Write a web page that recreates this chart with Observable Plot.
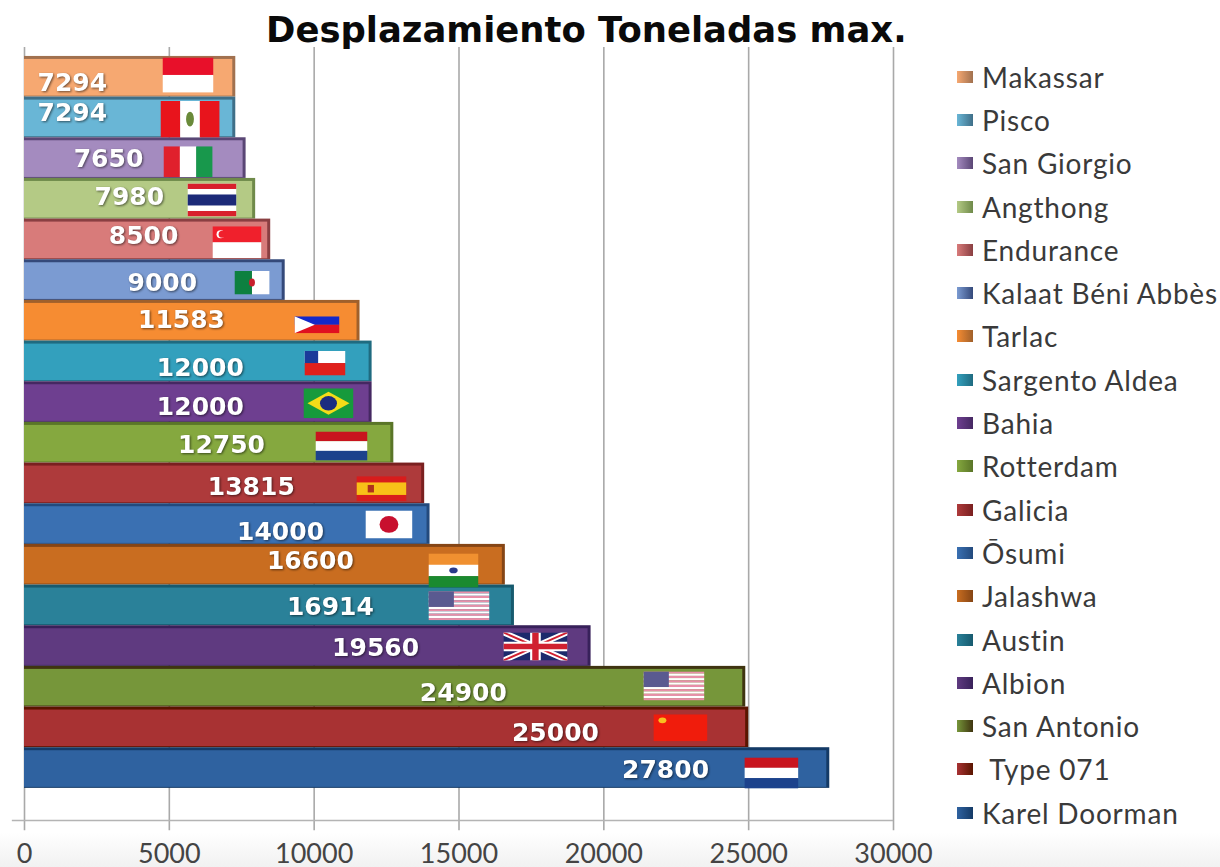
<!DOCTYPE html>
<html lang="es">
<head>
<meta charset="utf-8">
<script src="https://cdn.jsdelivr.net/npm/d3@7"></script>
<script src="https://cdn.jsdelivr.net/npm/@observablehq/plot@0.6"></script>
<style>
html,body{margin:0;padding:0;width:1220px;height:867px;overflow:hidden;
  background:linear-gradient(to bottom,#fff 0,#fff 96%,#f1f1f1 100%);}
#wrap{position:relative;width:1220px;height:867px;}
#title{position:absolute;left:266px;top:6px;height:41px;font:bold 35.4px/47px "DejaVu Sans",sans-serif;color:#0a0a0a;white-space:nowrap;}
#chart{position:absolute;left:0;top:47px;}
#chart svg{background:transparent;display:block;}
#chart g[aria-label="text"] text{filter:drop-shadow(1px 1px 1px rgba(0,0,0,.55));}
#chart g[aria-label="image"] image{filter:blur(.4px);}
#legend{position:absolute;left:957px;top:55px;font:28px "Lato",sans-serif;letter-spacing:.8px;color:#3a3a3a;}
.row{display:flex;align-items:center;height:43.3px;white-space:pre;}
.sw{width:16px;height:12px;margin-right:9px;flex:none;}
</style>
</head>
<body>
<div id="wrap">
  <div id="title">Desplazamiento Toneladas max.</div>
  <div id="chart"></div>
  <div id="legend"></div>
</div>
<script>
// Data, top of chart to bottom
const ships = ["Makassar","Pisco","San Giorgio","Angthong","Endurance","Kalaat Béni Abbès","Tarlac","Sargento Aldea","Bahia","Rotterdam","Galicia","Ōsumi","Jalashwa","Austin","Albion","San Antonio"," Type 071","Karel Doorman"];
const tonnes = [7294,7294,7650,7980,8500,9000,11583,12000,12000,12750,13815,14000,16600,16914,19560,24900,25000,27800];
const xTicks = [0,5000,10000,15000,20000,25000,30000];
const fills = ["#f6a871","#69b6d6","#a48bbf","#b4ca85","#d87b7a","#7b9bd2","#f68c32","#33a0bd","#6e3f90","#85a83f","#ae3a3b","#3a70b2","#c96d20","#2a8199","#5f3a80","#76963a","#a83233","#2f62a0"];
const edges = ["#a1714f","#3f6f88","#5a4675","#6f8a4a","#8a3f42","#34497a","#a0602b","#1f6b80","#452862","#5a7528","#7a2020","#234a7d","#854515","#175a6e","#38215a","#3f3410","#5a1500","#143a66"];
const flagNames = ["id","pe","it","th","sg","dz","ph","cl","br","nl","es","jp","in","us","gb","us","cn","nl"];
// Where each printed number and flag sit on the chart, in axis units
const labelCenters = [1650,1650,2900,3620,4110,4760,5420,6070,6070,6800,7830,8840,9870,10560,12120,15150,18330,22130];
const labelRows = [0.66,1.38,2.52,3.45,4.42,5.58,6.49,7.67,8.63,9.55,10.58,11.69,12.41,13.53,14.54,15.66,16.64,17.55];
const flagCenters = [5644,5713,5644,6472,7335,7853,10097,10373,10494,10943,12323,12582,14809,14999,17639,22420,22644,25785];
const flagRows = [0.455,1.54,2.59,3.53,4.57,5.56,6.6,7.54,8.53,9.58,10.63,11.51,12.64,13.51,14.51,15.48,16.51,17.62];
const flagWidths = [51,59,49,49,49,35,45,41,50,52,50,47,50,61,64,61,54,54];
const flagHeights = [35,37,31,33,32,24,17,25,30,29,25,28,34,29,28,29,27,31];

const svgFlag = (w,h,body)=>"data:image/svg+xml;utf8,"+encodeURIComponent(`<svg xmlns="http://www.w3.org/2000/svg" viewBox="0 0 ${w} ${h}" preserveAspectRatio="none">${body}</svg>`);
const hBands=(cols,w=1)=>cols.map((c,i)=>`<rect x="0" y="${i}" width="${w}" height="1.02" fill="${c}"/>`).join("");
const vBands=(cols)=>cols.map((c,i)=>`<rect x="${i}" y="0" width="1.02" height="1" fill="${c}"/>`).join("");
const usStripes=Array.from({length:13},(_,i)=>`<rect x="0" y="${i}" width="24" height="1" fill="${i%2?'#fff':'#e88ea8'}"/>`).join("");
const flagArt={
  id:svgFlag(1,2,hBands(["#e8102a","#fff"])),
  pe:svgFlag(3,1,vBands(["#e8141c","#fff","#e8141c"])+`<circle cx="1.5" cy=".5" r=".2" fill="#6a8a3a"/>`),
  it:svgFlag(3,1,vBands(["#e0202c","#fff","#18984c"])),
  th:svgFlag(6,6,`<rect width="6" height="6" fill="#fff"/><rect width="6" height="1" fill="#d8202c"/><rect y="5" width="6" height="1" fill="#d8202c"/><rect y="2" width="6" height="2" fill="#1c2a78"/>`),
  sg:svgFlag(12,8,`<rect width="12" height="4" fill="#f0202c"/><rect y="4" width="12" height="4" fill="#fff"/><circle cx="2" cy="2" r="1" fill="#fff"/><circle cx="2.4" cy="2" r=".9" fill="#f0202c"/>`),
  dz:svgFlag(2,1,vBands(["#0d8040","#fff"])+`<circle cx="1" cy=".5" r=".17" fill="#c8202c"/>`),
  ph:svgFlag(4,2,`<rect width="4" height="1" fill="#1428c8"/><rect y="1" width="4" height="1" fill="#e01020"/><path d="M0 0L1.8 1L0 2Z" fill="#fff"/>`),
  cl:svgFlag(3,2,`<rect width="3" height="1" fill="#fff"/><rect y="1" width="3" height="1" fill="#e0201c"/><rect width="1" height="1" fill="#1a3a9a"/>`),
  br:svgFlag(10,7,`<rect width="10" height="7" fill="#169a3c"/><path d="M5 .8L9.2 3.5L5 6.2L.8 3.5Z" fill="#f4dc18"/><circle cx="5" cy="3.5" r="1.7" fill="#1c2c80"/>`),
  nl:svgFlag(1,3,hBands(["#c8141e","#fff","#1c428c"])),
  es:svgFlag(4,4,`<rect width="4" height="4" fill="#d81c1c"/><rect y="1" width="4" height="2" fill="#f8c018"/><rect x=".9" y="1.4" width=".5" height="1.2" fill="#b0301c"/>`),
  jp:svgFlag(3,2,`<rect width="3" height="2" fill="#fff"/><circle cx="1.5" cy="1" r=".6" fill="#c8102e"/>`),
  in:svgFlag(3,3,hBands(["#f09030","#fff","#1a8a30"],3)+`<circle cx="1.5" cy="1.5" r=".25" fill="#2a3a8a"/>`),
  us:svgFlag(24,13,usStripes+`<rect width="10" height="7" fill="#5a5a90"/>`),
  gb:svgFlag(60,30,`<rect width="60" height="30" fill="#1c2a6c"/><path d="M0 0L60 30M60 0L0 30" stroke="#fff" stroke-width="6"/><path d="M0 0L60 30M60 0L0 30" stroke="#d02030" stroke-width="2"/><path d="M30 0V30M0 15H60" stroke="#fff" stroke-width="10"/><path d="M30 0V30M0 15H60" stroke="#d02030" stroke-width="6"/>`),
  cn:svgFlag(3,2,`<rect width="3" height="2" fill="#f01c0c"/><circle cx=".5" cy=".45" r=".22" fill="#f8c020"/>`)
};

const table = ships.map((ship,i)=>({ship,tonnes:tonnes[i],rank:i,next:i+1,fill:fills[i],edge:edges[i],
  labelX:labelCenters[i],labelY:labelRows[i],
  flagX:flagCenters[i],flagY:flagRows[i],flagW:flagWidths[i],flagH:flagHeights[i],src:flagArt[flagNames[i]]}));

const yTop=-0.22, yBase=18.79;
const chart = Plot.plot({
  width:1220,height:820,
  marginLeft:24,marginRight:327,marginTop:0,marginBottom:47,
  style:{background:"transparent",overflow:"visible"},
  x:{domain:[0,30000],axis:null},
  y:{type:"linear",domain:[yBase,yTop],axis:null},
  marks:[
    Plot.ruleX(xTicks,{y1:yTop,y2:yBase+0.25,stroke:"#a9a9a9",strokeWidth:1.6}),
    Plot.ruleY([yBase],{x1:-420,x2:30000,stroke:"#b4b4b4",strokeWidth:1.5}),
    Plot.rect(table,{x1:0,x2:"tonnes",y1:"rank",y2:"next",fill:"edge"}),
    Plot.rect(table,{x1:0,x2:"tonnes",y1:"rank",y2:"next",fill:"fill",insetTop:3,insetBottom:1,insetRight:3}),
    Plot.image(table,{x:"flagX",y:"flagY",width:"flagW",height:"flagH",src:"src",preserveAspectRatio:"none"}),
    Plot.text(table,{x:"labelX",y:"labelY",text:d=>String(d.tonnes),fill:"#fff",fontFamily:"DejaVu Sans",fontWeight:"bold",fontSize:25}),
    Plot.axisX(xTicks,{anchor:"bottom",tickSize:0,tickPadding:23,tickFormat:d=>String(d),fontSize:27,fontFamily:"Lato",color:"#444"})
  ],
  color:{type:"identity"}
});
document.getElementById("chart").appendChild(chart);

const legend=document.getElementById("legend");
ships.forEach((s,i)=>{
  const r=document.createElement("div");r.className="row";
  const sw=document.createElement("span");sw.className="sw";
  sw.style.background=`linear-gradient(to right,${fills[i]},${edges[i]})`;
  const t=document.createElement("span");t.textContent=s;
  r.append(sw,t);legend.appendChild(r);
});
</script>
</body>
</html>
